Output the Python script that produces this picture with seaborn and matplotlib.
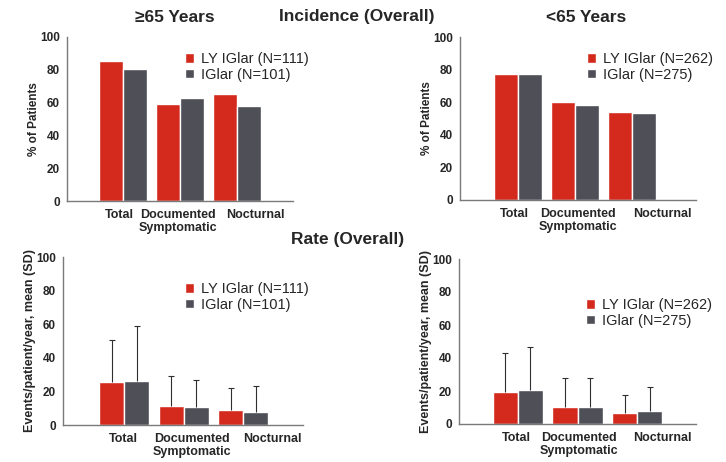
import numpy as np
import pandas as pd
import matplotlib
matplotlib.use("Agg")
import matplotlib.pyplot as plt
from matplotlib.transforms import ScaledTranslation, blended_transform_factory
import seaborn as sns

# ---- data -------------------------------------------------------------
categories = ["Total", "Documented\nSymptomatic", "Nocturnal"]
treatments = ["LY IGlar", "IGlar"]

n_65plus = [111, 101]
n_under65 = [262, 275]

# incidence, % of patients
inc_65plus_ly = [85.5, 59.0, 65.2]
inc_65plus_iglar = [80.3, 62.6, 57.9]
inc_under65_ly = [77.4, 60.3, 54.0]
inc_under65_iglar = [77.3, 58.0, 53.2]

# rate, events/patient/year: mean and SD
rate_65plus_ly = [25.7, 11.5, 8.9]
rate_65plus_iglar = [26.1, 10.9, 7.9]
rate_65plus_ly_sd = [25.0, 17.6, 13.1]
rate_65plus_iglar_sd = [32.7, 15.8, 15.6]

rate_under65_ly = [19.5, 10.1, 6.8]
rate_under65_iglar = [20.9, 10.5, 7.8]
rate_under65_ly_sd = [23.8, 17.9, 10.7]
rate_under65_iglar_sd = [26.0, 17.5, 14.5]

y_ticks = [0, 20, 40, 60, 80, 100]

# ---- style ------------------------------------------------------------
RED = "#D42A1E"
GRAY = "#4E4F57"
SPINE = "#7A7A7A"
W, H = 726, 462

sns.set_style("white")
plt.rcParams["font.family"] = ["Liberation Sans", "DejaVu Sans"]

fig = plt.figure(figsize=(W / 100, H / 100), dpi=100)


def px_axes(l, t, r, b):
    return fig.add_axes([l / W, 1 - b / H, (r - l) / W, (b - t) / H])


def draw_panel(ax, ly, iglar, ns, ylabel, ylabel_size, xlim, legend_xy,
               label_dx, ly_sd=None, iglar_sd=None):
    labels = [f"{t} (N={n})" for t, n in zip(treatments, ns)]
    df = pd.DataFrame({
        "category": categories * 2,
        "group": [labels[0]] * 3 + [labels[1]] * 3,
        "value": list(ly) + list(iglar),
    })
    sns.barplot(data=df, x="category", y="value", hue="group",
                order=categories, hue_order=labels,
                palette=[RED, GRAY], saturation=1, width=0.84,
                errorbar=None, ax=ax, zorder=2)

    if ly_sd is not None:
        for cont, means, sds in zip(ax.containers, [ly, iglar], [ly_sd, iglar_sd]):
            xs = [p.get_x() + p.get_width() / 2 for p in cont]
            _, caps, _ = ax.errorbar(xs, means, yerr=[np.zeros(len(sds)), sds],
                                     fmt="none", ecolor="#2F2F2F",
                                     elinewidth=0.8, capsize=2,
                                     capthick=0.8, zorder=3)
            for c in caps:
                if np.allclose(c.get_ydata(), means):
                    c.set_visible(False)

    ax.set_ylim(0, 100)
    ax.set_xlim(*xlim)
    ax.set_yticks(y_ticks)
    ax.set_yticklabels([str(v) for v in y_ticks], fontweight="bold",
                       fontsize=8.5)

    # category labels under each group
    ax.set_xticks(range(len(categories)))
    ax.set_xticklabels([])
    base = blended_transform_factory(ax.transData, ax.transAxes)
    for i, (cat, dx) in enumerate(zip(categories, label_dx)):
        ax.text(i, 0, cat, transform=base + ScaledTranslation(
                    dx / 100, -8 / 100, fig.dpi_scale_trans),
                ha="center", va="top", fontweight="bold", fontsize=9,
                linespacing=1.15, multialignment="center")

    ax.set_xlabel("")
    ax.set_ylabel(ylabel, fontweight="bold", fontsize=ylabel_size,
                  labelpad=0)

    for side in ["top", "right"]:
        ax.spines[side].set_visible(False)
    for side in ["left", "bottom"]:
        ax.spines[side].set_color(SPINE)
        ax.spines[side].set_linewidth(1.0)
    ax.tick_params(axis="both", direction="out", length=3, width=0.8,
                   color=SPINE, pad=3)
    ax.tick_params(axis="y", pad=2)

    handles, hl = ax.get_legend_handles_labels()
    if ax.get_legend() is not None:
        ax.get_legend().remove()
    fig.legend(handles, hl, loc="upper left",
               bbox_to_anchor=(legend_xy[0] / W, 1 - legend_xy[1] / H),
               bbox_transform=fig.transFigure, frameon=False,
               fontsize=10.5, handlelength=0.62, handleheight=0.62,
               handletextpad=0.5, labelspacing=0.12, borderpad=0,
               borderaxespad=0)


ax1 = px_axes(67, 37, 293, 201)
draw_panel(ax1, inc_65plus_ly, inc_65plus_iglar, n_65plus, "% of Patients",
           8.5, (-0.98, 2.98), (185, 52), [-4, -2, 18])

ax2 = px_axes(460, 37, 696, 200)
draw_panel(ax2, inc_under65_ly, inc_under65_iglar, n_under65, "% of Patients",
           8.5, (-1.02, 3.12), (587, 52), [-4, 3, 30])

ax3 = px_axes(63, 257, 303, 425)
draw_panel(ax3, rate_65plus_ly, rate_65plus_iglar, n_65plus,
           "Events/patient/year, mean (SD)", 9, (-1.03, 3.0), (185, 282),
           [-1, 8, 29], rate_65plus_ly_sd, rate_65plus_iglar_sd)

ax4 = px_axes(459, 259, 696, 424)
draw_panel(ax4, rate_under65_ly, rate_under65_iglar, n_under65,
           "Events/patient/year, mean (SD)", 9, (-0.99, 2.99), (586, 298),
           [-2, 1, 25], rate_under65_ly_sd, rate_under65_iglar_sd)

# ---- titles -----------------------------------------------------------
title_kw = dict(fontweight="bold", fontsize=12.5, ha="center", va="center")
fig.text(175 / W, 1 - 18 / H, "≥65 Years", **title_kw)
fig.text(357 / W, 1 - 17 / H, "Incidence (Overall)", **title_kw)
fig.text(586 / W, 1 - 18 / H, "<65 Years", **title_kw)
fig.text(348 / W, 1 - 240 / H, "Rate (Overall)", **title_kw)

fig.savefig("out.png", dpi=100)
